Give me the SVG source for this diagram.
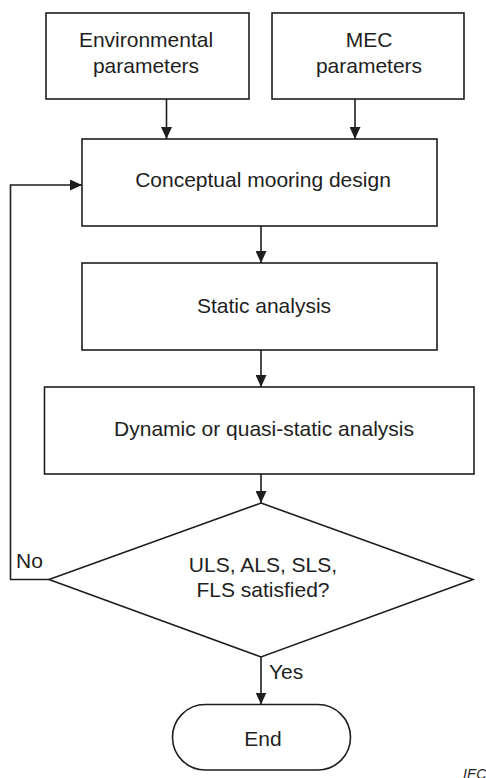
<svg xmlns="http://www.w3.org/2000/svg" width="486" height="778" viewBox="0 0 486 778">
  <style>
    .shape { fill: #ffffff; stroke: #1e1e1e; stroke-width: 1.6; }
    .edge { fill: none; stroke: #1e1e1e; stroke-width: 1.6; }
    .label { font-family: "Liberation Sans", Arial, sans-serif; font-size: 21px; fill: #1e1e1e; text-anchor: middle; }
    .tag { font-family: "Liberation Sans", Arial, sans-serif; font-size: 21px; fill: #1e1e1e; }
    .credit { font-family: "Liberation Sans", Arial, sans-serif; font-size: 14px; font-style: italic; fill: #1e1e1e; }
  </style>
  <defs>
    <marker id="arrow" viewBox="0 0 12 11" refX="12" refY="5.5" markerWidth="12" markerHeight="11" markerUnits="userSpaceOnUse" orient="auto">
      <path d="M0,0 L12,5.5 L0,11 Z" fill="#1e1e1e"/>
    </marker>
  </defs>

  <rect width="486" height="778" fill="#ffffff"/>

  <g id="env-params">
    <rect class="shape" x="46" y="13" width="203" height="86"/>
    <text class="label" x="146" y="47">Environmental</text>
    <text class="label" x="146" y="73">parameters</text>
  </g>

  <g id="mec-params">
    <rect class="shape" x="272" y="13" width="192" height="86"/>
    <text class="label" x="369" y="47">MEC</text>
    <text class="label" x="369" y="73">parameters</text>
  </g>

  <g id="conceptual-design">
    <rect class="shape" x="82" y="139" width="355" height="87"/>
    <text class="label" x="263" y="187">Conceptual mooring design</text>
  </g>

  <g id="static-analysis">
    <rect class="shape" x="82" y="263" width="355" height="87"/>
    <text class="label" x="264" y="313">Static analysis</text>
  </g>

  <g id="dynamic-analysis">
    <rect class="shape" x="44.5" y="387" width="429.5" height="87"/>
    <text class="label" x="264" y="436">Dynamic or quasi-static analysis</text>
  </g>

  <g id="limit-check">
    <polygon class="shape" points="261,503 473,579.5 261,657 49,579.5"/>
    <text class="label" x="263" y="572">ULS, ALS, SLS,</text>
    <text class="label" x="263" y="597">FLS satisfied?</text>
  </g>

  <g id="end">
    <rect class="shape" x="172.5" y="704.5" width="178" height="65.5" rx="32.75" ry="32.75"/>
    <text class="label" x="263" y="746">End</text>
  </g>

  <g id="connectors">
    <line class="edge" x1="166.5" y1="99" x2="166.5" y2="139" marker-end="url(#arrow)"/>
    <line class="edge" x1="355" y1="99" x2="355" y2="139" marker-end="url(#arrow)"/>
    <line class="edge" x1="261" y1="226" x2="261" y2="263" marker-end="url(#arrow)"/>
    <line class="edge" x1="261" y1="350" x2="261" y2="387" marker-end="url(#arrow)"/>
    <line class="edge" x1="261" y1="474" x2="261" y2="503" marker-end="url(#arrow)"/>
    <line class="edge" x1="261" y1="657" x2="261" y2="704.5" marker-end="url(#arrow)"/>
    <polyline class="edge" points="49,579.5 10.5,579.5 10.5,185 82,185" marker-end="url(#arrow)"/>
    <text class="tag" x="16" y="568">No</text>
    <text class="tag" x="269" y="679">Yes</text>
  </g>

  <text class="credit" x="463" y="779">IEC</text>
</svg>
